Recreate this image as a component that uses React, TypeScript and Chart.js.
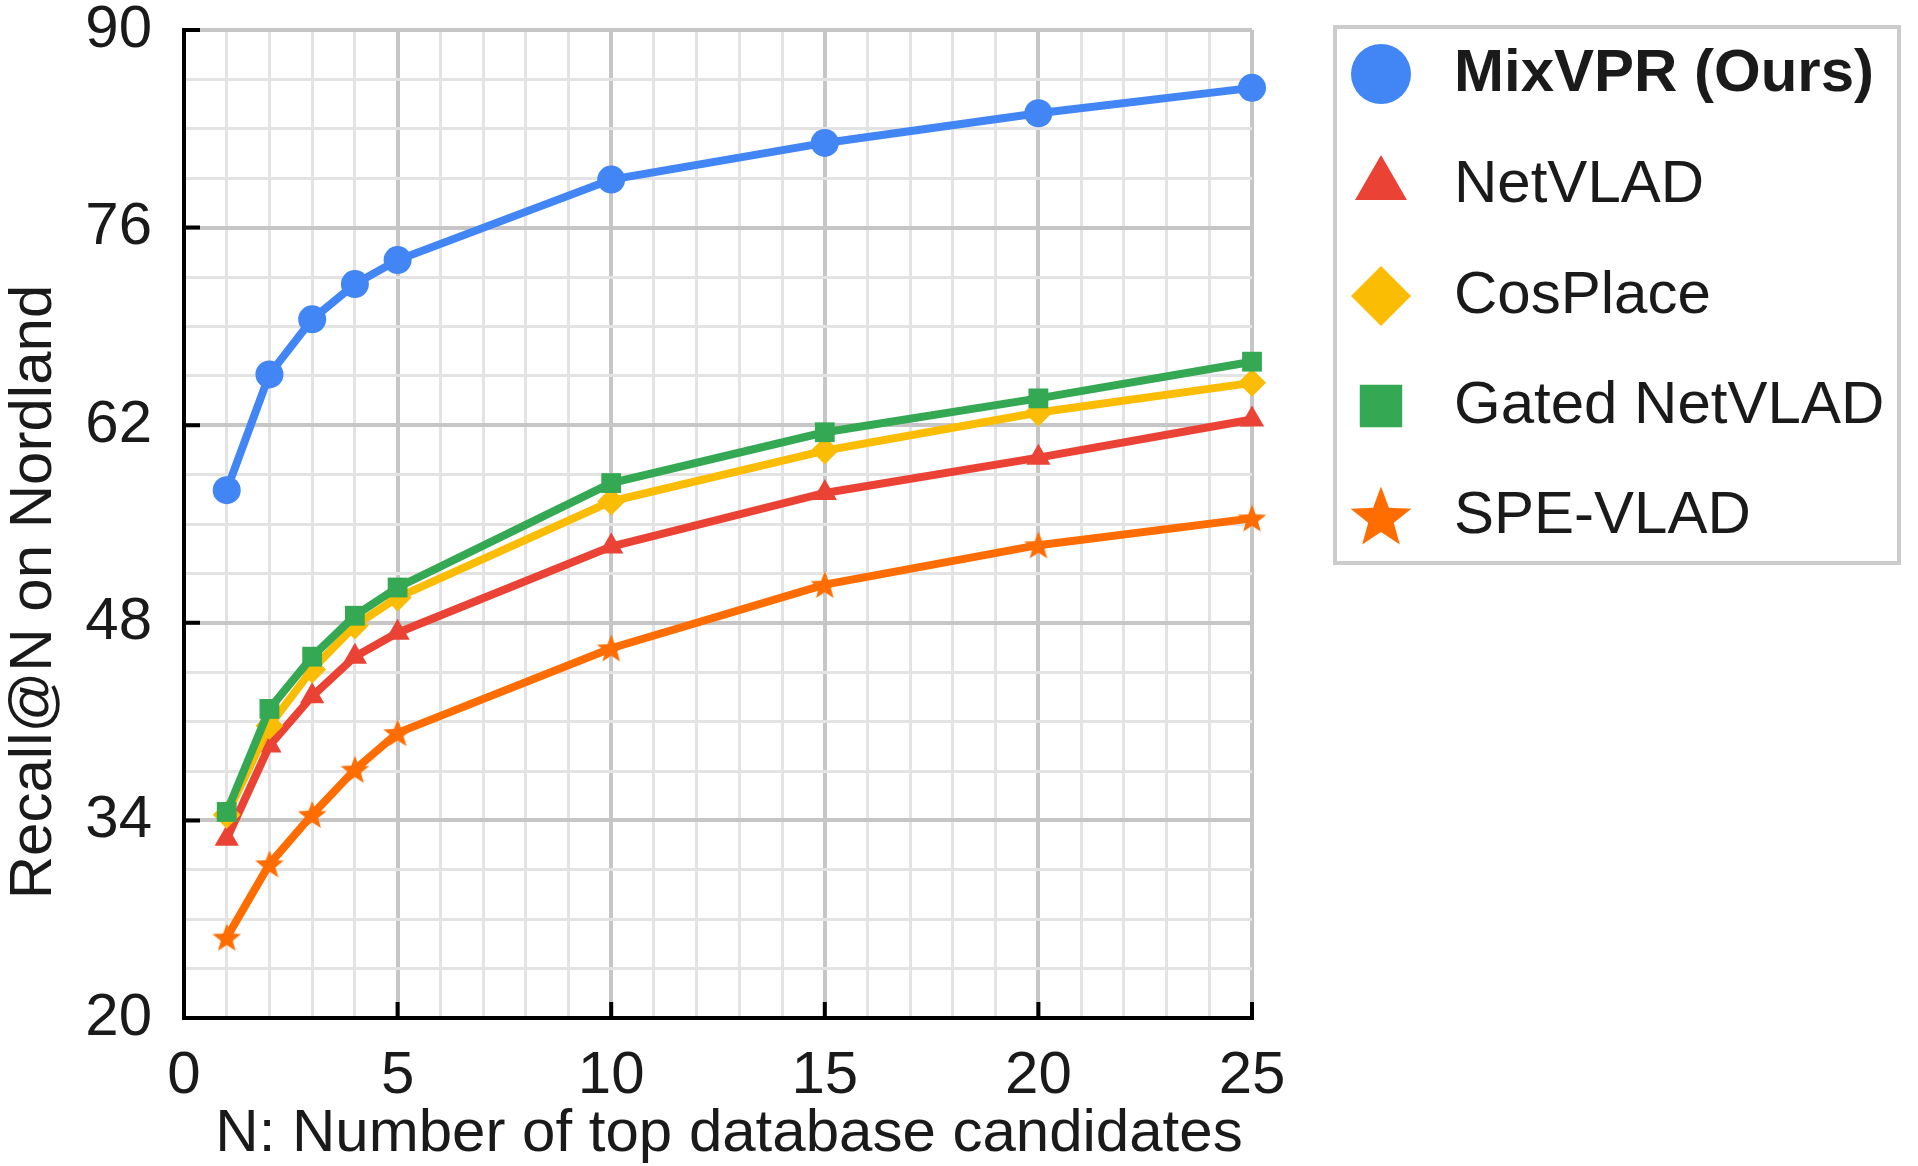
import { useEffect, useRef } from "react"
import { Chart, registerables } from "chart.js"
import { drawPoint } from "chart.js/helpers"

Chart.register(...registerables)

// N values (x) and Recall@N
const candidates = [1, 2, 3, 4, 5, 10, 15, 20, 25]
const mixVPR = [57.4, 65.6, 69.5, 72.0, 73.7, 79.4, 82.0, 84.1, 85.9]
const netVLAD = [32.7, 39.3, 42.8, 45.6, 47.3, 53.4, 57.2, 59.7, 62.4]
const cosPlace = [34.4, 40.7, 44.7, 47.8, 49.8, 56.6, 60.2, 62.9, 65.0]
const gatedNetVLAD = [34.6, 41.9, 45.6, 48.5, 50.5, 57.9, 61.5, 63.9, 66.5]
const speVLAD = [25.7, 30.9, 34.4, 37.6, 40.2, 46.2, 50.7, 53.5, 55.4]

const seriesNames = ["MixVPR (Ours)", "NetVLAD", "CosPlace", "Gated NetVLAD", "SPE-VLAD"]
const seriesColors = ["#4285F4", "#EA4335", "#FBBC04", "#34A853", "#FF6D01"]

const xTickLabels = [0, 5, 10, 15, 20, 25]
const yTickLabels = [20, 34, 48, 62, 76, 90]

const xTitle = "N: Number of top database candidates"
const yTitle = "Recall@N on Nordland"

const FONT = "'Liberation Sans', Arial, Helvetica, sans-serif"
const TEXT = "#1a1a1a"
const FONT_SIZE = 60

function makeStar(outer: number, color: string) {
	const size = Math.ceil(outer * 2 + 4)
	const c = document.createElement("canvas")
	c.width = size
	c.height = size
	const ctx = c.getContext("2d")!
	const cx = size / 2
	const cy = size / 2 + outer * 0.08
	ctx.beginPath()
	for (let i = 0; i < 10; i++) {
		const r = i % 2 === 0 ? outer : outer * 0.42
		const a = -Math.PI / 2 + (i * Math.PI) / 5
		const px = cx + Math.cos(a) * r
		const py = cy + Math.sin(a) * r
		if (i === 0) ctx.moveTo(px, py)
		else ctx.lineTo(px, py)
	}
	ctx.closePath()
	ctx.fillStyle = color
	ctx.fill()
	return c
}

export default function App() {
	const chartRef = useRef<HTMLCanvasElement>(null)
	const chartInstance = useRef<Chart | null>(null)

	useEffect(() => {
		document.body.style.margin = "0"
		if (!chartRef.current) return
		if (chartInstance.current) chartInstance.current.destroy()

		const smallStar = makeStar(15, seriesColors[4])
		const bigStar = makeStar(32, seriesColors[4])
		const styles: any[] = ["circle", "triangle", "rectRot", "rect", smallStar]
		const legendStyles: any[] = ["circle", "triangle", "rectRot", "rect", bigStar]
		const values = [mixVPR, netVLAD, cosPlace, gatedNetVLAD, speVLAD]
		const drawOrder = [0, 3, 2, 1, 4]

		const decorations = {
			id: "decorations",
			afterDraw(chart: any) {
				const { ctx, chartArea, scales } = chart
				ctx.save()

				// inward tick marks
				ctx.strokeStyle = "#000"
				ctx.lineWidth = 4
				ctx.beginPath()
				for (const v of yTickLabels) {
					if (v === yTickLabels[0]) continue
					const py = scales.y.getPixelForValue(v)
					ctx.moveTo(chartArea.left, py)
					ctx.lineTo(chartArea.left + 16, py)
				}
				for (const v of xTickLabels) {
					if (v === xTickLabels[0]) continue
					const px = scales.x.getPixelForValue(v)
					ctx.moveTo(px, chartArea.bottom)
					ctx.lineTo(px, chartArea.bottom - 16)
				}
				ctx.stroke()

				// axis titles
				ctx.fillStyle = TEXT
				ctx.font = `${FONT_SIZE}px ${FONT}`
				ctx.textAlign = "center"
				ctx.textBaseline = "middle"
				ctx.fillText(xTitle, 729, 1134)
				ctx.save()
				ctx.translate(34, 592)
				ctx.rotate(-Math.PI / 2)
				ctx.fillText(yTitle, 0, 0)
				ctx.restore()

				// legend box
				ctx.strokeStyle = "#cccccc"
				ctx.lineWidth = 4
				ctx.strokeRect(1335, 27, 564, 536)
				const rows = [74, 185, 296, 406, 516]
				seriesNames.forEach((name, i) => {
					ctx.fillStyle = seriesColors[i]
					drawPoint(ctx, { pointStyle: legendStyles[i], rotation: 0, radius: 30, borderWidth: 0 } as any, 1381, rows[i])
					ctx.fillStyle = TEXT
					ctx.font = `${i === 0 ? "bold " : ""}${FONT_SIZE}px ${FONT}`
					ctx.textAlign = "left"
					ctx.textBaseline = "middle"
					ctx.fillText(name, 1454, rows[i])
				})
				ctx.restore()
			},
		}

		chartInstance.current = new Chart(chartRef.current, {
			type: "line",
			data: {
				datasets: seriesNames.map((name, i) => ({
					label: name,
					data: candidates.map((n, j) => ({ x: n, y: values[i][j] })),
					borderColor: seriesColors[i],
					backgroundColor: seriesColors[i],
					pointBackgroundColor: seriesColors[i],
					pointBorderColor: seriesColors[i],
					pointStyle: styles[i],
					pointRadius: 14,
					pointHoverRadius: 14,
					pointBorderWidth: 0,
					borderWidth: 8,
					tension: 0,
					fill: false,
					clip: false,
					order: drawOrder[i],
				})),
			},
			options: {
				animation: false,
				responsive: true,
				maintainAspectRatio: false,
				events: [],
				layout: { autoPadding: false, padding: { left: 0, right: 666, top: 30, bottom: 0 } },
				plugins: { legend: { display: false }, tooltip: { enabled: false } },
				scales: {
					x: {
						type: "linear",
						min: 0,
						max: 25,
						afterFit: (s: any) => {
							s.height = 148
							s.paddingLeft = 0
							s.paddingRight = 0
						},
						border: { display: true, color: "#000", width: 4 },
						grid: {
							drawTicks: false,
							color: (c: any) => (xTickLabels.includes(c.tick.value) ? "#c6c6c6" : "#e3e3e3"),
							lineWidth: (c: any) => (xTickLabels.includes(c.tick.value) ? 4 : 3),
						},
						ticks: {
							stepSize: 1,
							autoSkip: false,
							maxRotation: 0,
							padding: 22,
							color: TEXT,
							font: { family: FONT, size: FONT_SIZE },
							callback: (v: any) => (xTickLabels.includes(v) ? String(v) : ""),
						},
					},
					y: {
						type: "linear",
						min: 20,
						max: 90,
						afterFit: (s: any) => {
							s.width = 184
							s.paddingTop = 0
							s.paddingBottom = 0
						},
						border: { display: true, color: "#000", width: 4 },
						grid: {
							drawTicks: false,
							color: (c: any) => (yTickLabels.includes(c.tick.value) ? "#c6c6c6" : "#e3e3e3"),
							lineWidth: (c: any) => (yTickLabels.includes(c.tick.value) ? 4 : 3),
						},
						ticks: {
							stepSize: 3.5,
							autoSkip: false,
							padding: 32,
							color: TEXT,
							font: { family: FONT, size: FONT_SIZE },
							callback: (v: any) => (yTickLabels.includes(v) ? String(v) : ""),
						},
					},
				},
			},
			plugins: [decorations],
		})

		return () => {
			if (chartInstance.current) {
				chartInstance.current.destroy()
				chartInstance.current = null
			}
		}
	}, [])

	return (
		<div style={{ width: 1918, height: 1166, position: "relative", background: "#fff" }}>
			<canvas ref={chartRef}></canvas>
		</div>
	)
}
